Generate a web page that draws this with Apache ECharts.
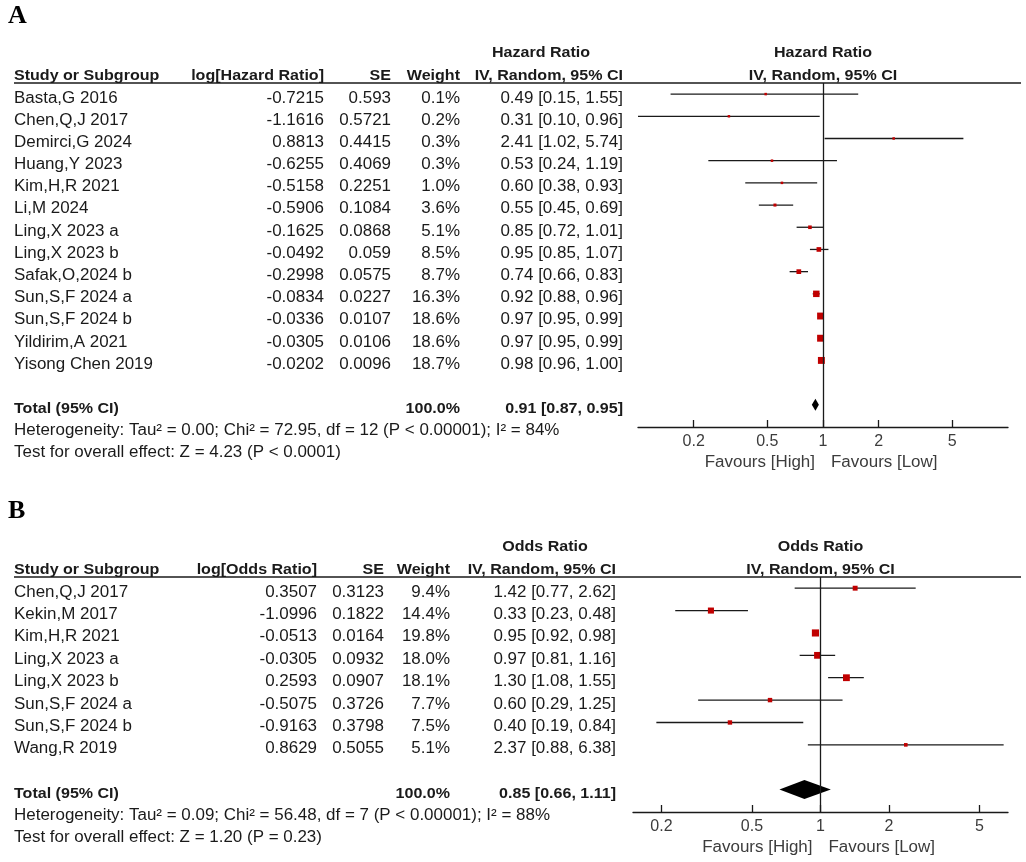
<!DOCTYPE html>
<html>
<head>
<meta charset="utf-8">
<script src="https://cdn.jsdelivr.net/npm/echarts@6/dist/echarts.min.js"></script>
<style>html,body{margin:0;padding:0;background:#fff}#c{width:1026px;height:862px}</style>
</head>
<body>
<div id="c"></div>
<script>
// ---------- DATA ----------
const tickValues = [0.2, 0.5, 1, 2, 5];

const aStudies = ['Basta,G 2016','Chen,Q,J 2017','Demirci,G 2024','Huang,Y 2023','Kim,H,R 2021','Li,M 2024','Ling,X 2023 a','Ling,X 2023 b','Safak,O,2024 b','Sun,S,F 2024 a','Sun,S,F 2024 b','Yildirim,A 2021','Yisong Chen 2019'];
const aLogHR = ['-0.7215','-1.1616','0.8813','-0.6255','-0.5158','-0.5906','-0.1625','-0.0492','-0.2998','-0.0834','-0.0336','-0.0305','-0.0202'];
const aSE = ['0.593','0.5721','0.4415','0.4069','0.2251','0.1084','0.0868','0.059','0.0575','0.0227','0.0107','0.0106','0.0096'];
const aWeight = [0.1, 0.2, 0.3, 0.3, 1.0, 3.6, 5.1, 8.5, 8.7, 16.3, 18.6, 18.6, 18.7];
const aHR = [0.49, 0.31, 2.41, 0.53, 0.60, 0.55, 0.85, 0.95, 0.74, 0.92, 0.97, 0.97, 0.98];
const aLo = [0.15, 0.10, 1.02, 0.24, 0.38, 0.45, 0.72, 0.85, 0.66, 0.88, 0.95, 0.95, 0.96];
const aHi = [1.55, 0.96, 5.74, 1.19, 0.93, 0.69, 1.01, 1.07, 0.83, 0.96, 0.99, 0.99, 1.00];
const aTotal = [0.91, 0.87, 0.95];
const aTotalWeight = '100.0%';
const aHetero = 'Heterogeneity: Tau\u00b2 = 0.00; Chi\u00b2 = 72.95, df = 12 (P < 0.00001); I\u00b2 = 84%';
const aTest = 'Test for overall effect: Z = 4.23 (P < 0.0001)';

const bStudies = ['Chen,Q,J 2017','Kekin,M 2017','Kim,H,R 2021','Ling,X 2023 a','Ling,X 2023 b','Sun,S,F 2024 a','Sun,S,F 2024 b','Wang,R 2019'];
const bLogOR = ['0.3507','-1.0996','-0.0513','-0.0305','0.2593','-0.5075','-0.9163','0.8629'];
const bSE = ['0.3123','0.1822','0.0164','0.0932','0.0907','0.3726','0.3798','0.5055'];
const bWeight = [9.4, 14.4, 19.8, 18.0, 18.1, 7.7, 7.5, 5.1];
const bOR = [1.42, 0.33, 0.95, 0.97, 1.30, 0.60, 0.40, 2.37];
const bLo = [0.77, 0.23, 0.92, 0.81, 1.08, 0.29, 0.19, 0.88];
const bHi = [2.62, 0.48, 0.98, 1.16, 1.55, 1.25, 0.84, 6.38];
const bTotal = [0.85, 0.66, 1.11];
const bTotalWeight = '100.0%';
const bHetero = 'Heterogeneity: Tau\u00b2 = 0.09; Chi\u00b2 = 56.48, df = 7 (P < 0.00001); I\u00b2 = 88%';
const bTest = 'Test for overall effect: Z = 1.20 (P = 0.23)';

// ---------- STYLE ----------
const FONT = '"Liberation Sans", Arial, sans-serif';
const REG = '16px ' + FONT;
const BOLD = 'bold 15px ' + FONT;
const TXT = '#1a1a1a';
const GRAY = '#3c3c3c';
const SQ = '#c00000';

const chart = echarts.init(document.getElementById('c'), null, {renderer: 'canvas'});

function fmt(v) { return String(parseFloat(Number(v).toPrecision(6))); }

function xAxisCfg(gi, min, max) {
  return {
    type: 'log', logBase: 10, gridIndex: gi, min: min, max: max, position: 'bottom',
    axisLine: {show: true, onZero: false, lineStyle: {color: '#1a1a1a', width: 1.3}},
    axisTick: {show: true, inside: true, length: 7, customValues: tickValues, lineStyle: {color: '#1a1a1a', width: 1.3}},
    minorTick: {show: false},
    axisLabel: {show: true, customValues: tickValues, formatter: fmt, fontSize: 16, fontFamily: FONT, color: GRAY, margin: 7},
    splitLine: {show: false}
  };
}
function yAxisCfg(gi, max) {
  return {type: 'value', gridIndex: gi, min: -0.5, max: max, inverse: true, show: false};
}

function studySeries(gi, est, lo, hi, w) {
  return {
    type: 'custom', xAxisIndex: gi, yAxisIndex: gi, clip: false, silent: true,
    data: est.map((e, i) => [e, i, lo[i], hi[i], w[i]]),
    encode: {x: [0, 2, 3], y: 1},
    renderItem: function (params, api) {
      const row = api.value(1);
      const c = api.coord([api.value(0), row]);
      const l = api.coord([api.value(2), row]);
      const h = api.coord([api.value(3), row]);
      const s = Math.max(2.5, 1.6 * Math.sqrt(api.value(4)));
      return {type: 'group', children: [
        {type: 'line', shape: {x1: l[0], y1: l[1], x2: h[0], y2: h[1]}, style: {stroke: '#1a1a1a', lineWidth: 1.3}},
        {type: 'rect', shape: {x: c[0] - s / 2, y: c[1] - s / 2, width: s, height: s}, style: {fill: SQ}}
      ]};
    }
  };
}

function totalSeries(gi, tot, row, halfH) {
  return {
    type: 'custom', xAxisIndex: gi, yAxisIndex: gi, clip: false, silent: true,
    data: [[tot[0], row, tot[1], tot[2]]],
    encode: {x: [0, 2, 3], y: 1},
    renderItem: function (params, api) {
      const r = api.value(1);
      const c = api.coord([api.value(0), r]);
      const l = api.coord([api.value(2), r]);
      const h = api.coord([api.value(3), r]);
      return {type: 'polygon', shape: {points: [[l[0], c[1]], [c[0], c[1] - halfH], [h[0], c[1]], [c[0], c[1] + halfH]]}, style: {fill: '#000'}};
    },
    markLine: {
      silent: true, symbol: 'none', label: {show: false},
      lineStyle: {color: '#1a1a1a', width: 1.3, type: 'solid'},
      data: [{xAxis: 1}]
    }
  };
}

const aRows = aStudies.length;           // 13
const aTotalRow = aRows + 1;             // 14
const bRows = bStudies.length;           // 8
const bTotalRow = bRows + 1;             // 9

chart.setOption({
  animation: false,
  backgroundColor: '#fff',
  grid: [
    {left: 638, top: 83, width: 370, height: 344},
    {left: 633, top: 577, width: 375, height: 235}
  ],
  xAxis: [xAxisCfg(0, 0.1, 10), xAxisCfg(1, 0.15, 6.667)],
  yAxis: [yAxisCfg(0, 15), yAxisCfg(1, 10)],
  series: [
    studySeries(0, aHR, aLo, aHi, aWeight),
    totalSeries(0, aTotal, aTotalRow, 6),
    studySeries(1, bOR, bLo, bHi, bWeight),
    totalSeries(1, bTotal, bTotalRow, 9.5)
  ]
});

// ---------- TABLE TEXT ----------
const g = [];
function txt(x, y, s, font, align, color, sx) {
  g.push({type: 'text', x: x, y: y, silent: true,
    scaleX: sx || (font === BOLD ? 1.07 : (font === REG ? 1.06 : 1)),
    style: {text: s, font: font, fill: color || TXT, textAlign: align || 'left', textVerticalAlign: 'middle'}});
}
function hline(x1, x2, y) {
  g.push({type: 'line', silent: true, shape: {x1: x1, y1: y, x2: x2, y2: y}, style: {stroke: '#1a1a1a', lineWidth: 1.5}});
}

function panel(gi, letter, letterY, measure, colLog, colSE, colW, colCI, hdrCenter,
               studies, logv, se, w, est, lo, hi, tot, totW, het, test, totalRow, headerTitle) {
  const yPix = v => chart.convertToPixel({yAxisIndex: gi}, v);
  const xOne = chart.convertToPixel({xAxisIndex: gi}, 1);
  const gridTop = yPix(-0.5);
  const axisY = yPix(gi === 0 ? 15 : 10);
  const plotCenter = xOne;
  txt(8, letterY, letter, 'bold 26px "Liberation Serif", "Times New Roman", serif', 'left', '#000', 1);
  // headers
  txt(hdrCenter, gridTop - 30, headerTitle, BOLD, 'center');
  txt(plotCenter, gridTop - 30, headerTitle, BOLD, 'center');
  txt(14, gridTop - 7, 'Study or Subgroup', BOLD, 'left');
  txt(colLog, gridTop - 7, measure, BOLD, 'right');
  txt(colSE, gridTop - 7, 'SE', BOLD, 'right');
  txt(colW, gridTop - 7, 'Weight', BOLD, 'right');
  txt(colCI, gridTop - 7, 'IV, Random, 95% CI', BOLD, 'right');
  txt(plotCenter, gridTop - 7, 'IV, Random, 95% CI', BOLD, 'center');
  hline(14, 1021, gridTop);
  // rows
  studies.forEach((s, i) => {
    const y = yPix(i) + 4;
    txt(14, y, s, REG, 'left');
    txt(colLog, y, logv[i], REG, 'right');
    txt(colSE, y, se[i], REG, 'right');
    txt(colW, y, w[i].toFixed(1) + '%', REG, 'right');
    txt(colCI, y, est[i].toFixed(2) + ' [' + lo[i].toFixed(2) + ', ' + hi[i].toFixed(2) + ']', REG, 'right');
  });
  const ty = yPix(totalRow) + 4;
  txt(14, ty, 'Total (95% CI)', BOLD, 'left');
  txt(colW, ty, totW, BOLD, 'right');
  txt(colCI, ty, tot[0].toFixed(2) + ' [' + tot[1].toFixed(2) + ', ' + tot[2].toFixed(2) + ']', BOLD, 'right');
  txt(14, ty + 22, het, REG, 'left');
  txt(14, ty + 44, test, REG, 'left');
  // favours
  txt(xOne - 8, axisY + 36, 'Favours [High]', REG, 'right', GRAY);
  txt(xOne + 8, axisY + 36, 'Favours [Low]', REG, 'left', GRAY);
}

panel(0, 'A', 16, 'log[Hazard Ratio]', 324, 391, 460, 623, 541,
      aStudies, aLogHR, aSE, aWeight, aHR, aLo, aHi, aTotal, aTotalWeight, aHetero, aTest, aTotalRow, 'Hazard Ratio');
panel(1, 'B', 511, 'log[Odds Ratio]', 317, 384, 450, 616, 545,
      bStudies, bLogOR, bSE, bWeight, bOR, bLo, bHi, bTotal, bTotalWeight, bHetero, bTest, bTotalRow, 'Odds Ratio');

chart.setOption({graphic: {elements: g}});
</script>
</body>
</html>
